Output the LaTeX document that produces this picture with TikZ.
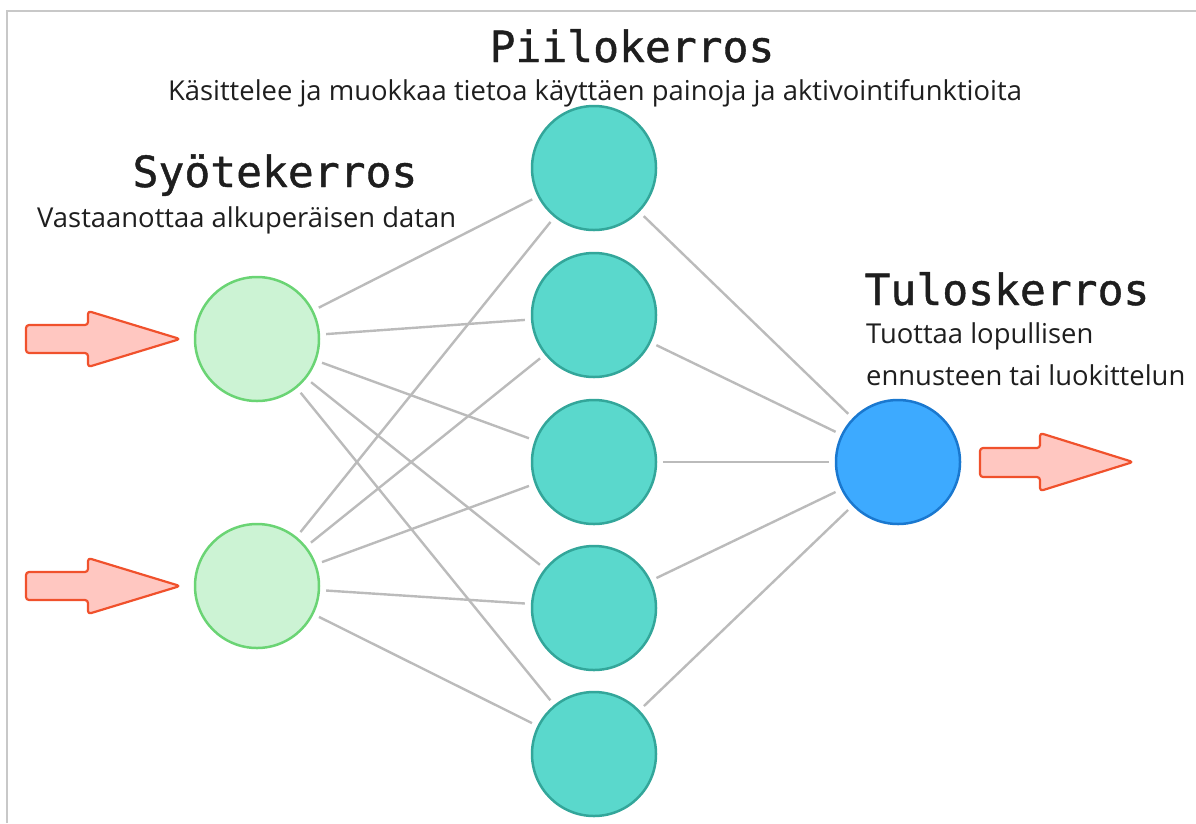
\documentclass[tikz,border=0pt]{standalone}
\usepackage{fontspec}
\setmainfont{Open Sans}
\newfontfamily\titlefont[FakeBold=1]{DejaVu Sans Mono}
\usepackage{xcolor}

\definecolor{inpfill}{HTML}{CCF3D4}
\definecolor{inpline}{HTML}{6AD474}
\definecolor{hidfill}{HTML}{5AD8CC}
\definecolor{hidline}{HTML}{33A69A}
\definecolor{outfill}{HTML}{3DAAFF}
\definecolor{outline}{HTML}{1A78CF}
\definecolor{arrfill}{HTML}{FFC7C1}
\definecolor{arrline}{HTML}{F0512C}
\definecolor{linkgray}{HTML}{BBBBBB}
\definecolor{framegray}{HTML}{C8C8C8}
\definecolor{inkgray}{HTML}{1E1E1E}

\begin{document}
\begin{tikzpicture}[x=1pt, y=-1pt,
    neuron/.style={circle, line width=2.5pt, inner sep=0pt, minimum size=124pt},
    inp/.style={neuron, draw=inpline, fill=inpfill},
    hid/.style={neuron, draw=hidline, fill=hidfill},
    outp/.style={neuron, draw=outline, fill=outfill},
    link/.style={draw=linkgray, line width=2.4pt, shorten >=6pt, shorten <=6pt},
    fatarrow/.style={draw=arrline, fill=arrfill, line width=2.2pt, rounded corners=3pt, line join=round},
    title/.style={font=\titlefont\fontsize{43}{43}\selectfont, text=inkgray, inner sep=0pt},
    desc/.style={font=\fontsize{27.4}{27.4}\selectfont, text=inkgray, inner sep=0pt}]
    \useasboundingbox (0,0) rectangle (1196,823);
    \draw[framegray, line width=2pt] (7,823) -- (7,11) -- (1196,11);

    % layers
    \node[inp] (in1) at (257,339) {};
    \node[inp] (in2) at (257,586) {};
    \node[hid] (hid1) at (594,168) {};
    \node[hid] (hid2) at (594,315) {};
    \node[hid] (hid3) at (594,462) {};
    \node[hid] (hid4) at (594,608) {};
    \node[hid] (hid5) at (594,754) {};
    \node[outp] (out) at (898,462) {};

    \foreach \i in {1,2}
        \foreach \j in {1,...,5}
            \draw[link] (in\i) -- (hid\j);
    \foreach \j in {1,...,5}
        \draw[link] (hid\j) -- (out);

    % arrows
    \draw[fatarrow] (26,325) -- (88,325) -- (88,311) -- (180,339) -- (88,367) -- (88,353) -- (26,353) -- cycle;
    \draw[fatarrow] (26,572) -- (88,572) -- (88,558) -- (180,586) -- (88,614) -- (88,600) -- (26,600) -- cycle;
    \draw[fatarrow] (980,448) -- (1040,448) -- (1040,433) -- (1133,462) -- (1040,491) -- (1040,477) -- (980,477) -- cycle;

    % labels
    \node[title, anchor=base] (hidtitle) at (632,62) {Piilokerros};
    \node[desc, anchor=base] (hiddesc) at (595,100) {Käsittelee ja muokkaa tietoa käyttäen painoja ja aktivointifunktioita};
    \node[title, anchor=base] (intitle) at (275,187) {Syötekerros};
    \node[desc, anchor=base west] (indesc) at (37,227) {Vastaanottaa alkuperäisen datan};
    \node[title, anchor=base] (outtitle) at (1007,305) {Tuloskerros};
    \node[desc, anchor=base west] (outdesc1) at (866,343) {Tuottaa lopullisen};
    \node[desc, anchor=base west] (outdesc2) at (866,385) {ennusteen tai luokittelun};
\end{tikzpicture}
\end{document}
